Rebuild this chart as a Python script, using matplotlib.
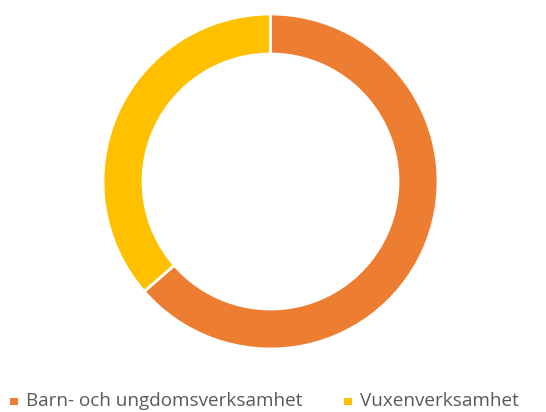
import matplotlib
matplotlib.use("Agg")
import matplotlib.pyplot as plt
from matplotlib.patches import Rectangle

categories = ["Barn- och ungdomsverksamhet", "Vuxenverksamhet"]
values = [63.6, 36.4]
colors = ["#ED7D31", "#FFC000"]

W, H = 546, 412
fig = plt.figure(figsize=(W / 100, H / 100), dpi=100)
cx, cy, R = 270.5, 181.5, 167.5
ax = fig.add_axes([(cx - R) / W, (H - cy - R) / H, 2 * R / W, 2 * R / H])
ax.pie(values, colors=colors, startangle=90, counterclock=False, radius=1.0,
       wedgeprops=dict(width=40 / R, edgecolor="white", linewidth=2.0))
ax.set_xlim(-1, 1)
ax.set_ylim(-1, 1)
ax.set_aspect("equal")
ax.axis("off")

legend_x = [10, 344]
ty = 401.5
for x, lab, col in zip(legend_x, categories, colors):
    fig.patches.append(Rectangle((x / W, (H - ty - 3.5) / H), 7.5 / W, 7.5 / H,
                                 transform=fig.transFigure, facecolor=col, edgecolor="none"))
    fig.text((x + 16) / W, (H - ty + 1) / H, lab, fontsize=13.6, color="#595959",
             va="center", ha="left", family=['Open Sans', 'DejaVu Sans'])

fig.savefig("out.png", dpi=100)
